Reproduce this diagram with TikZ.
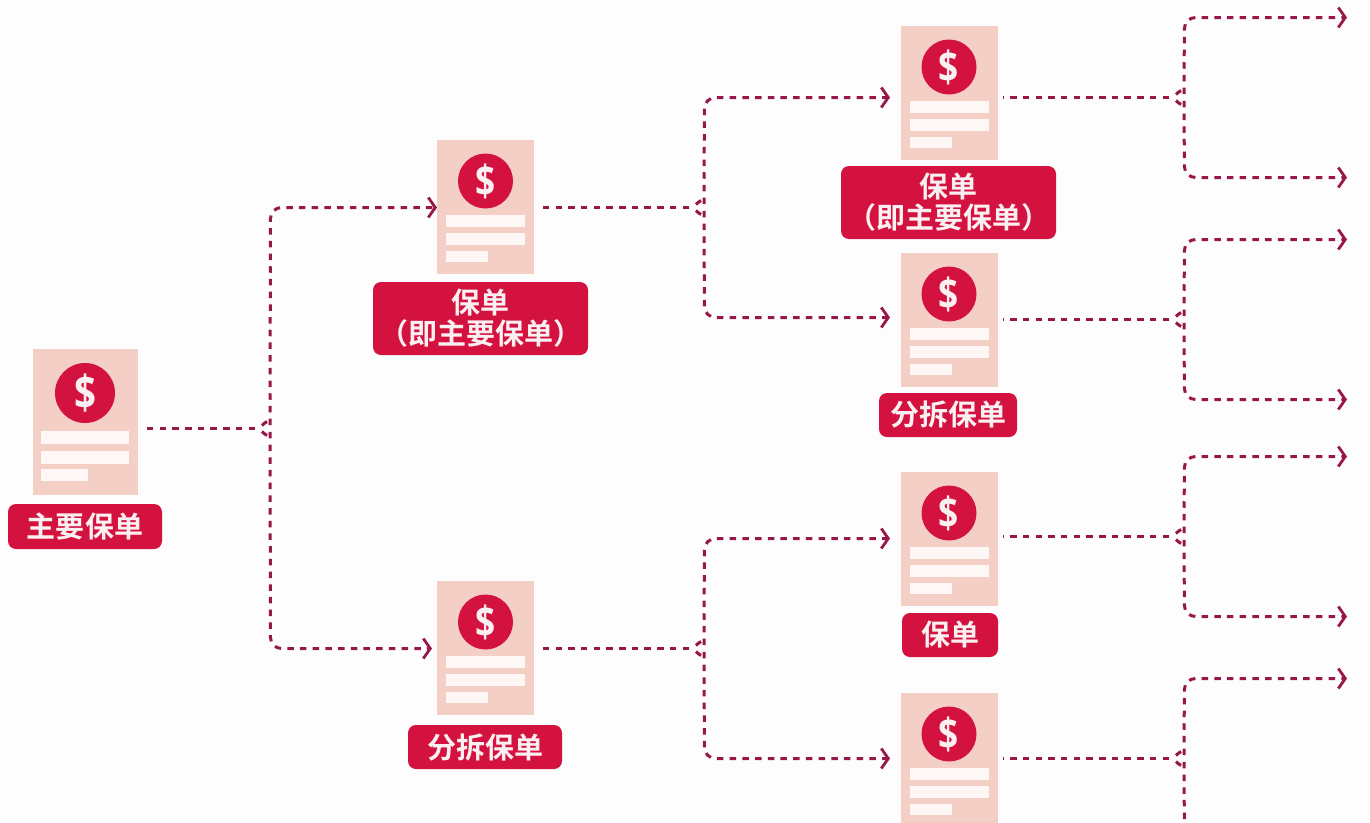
\documentclass[tikz,border=0pt]{standalone}
\usepackage{fontspec}
\setmainfont{Noto Sans CJK SC Bold}
\newfontfamily\dollarfont{Open Sans}[BoldFont=* Bold]
\usetikzlibrary{arrows.meta}
\definecolor{bgc}{HTML}{FDFDFE}
\definecolor{cardc}{HTML}{F4CFC6}
\definecolor{barc}{HTML}{FDF7F6}
\definecolor{redc}{HTML}{D3123F}
\definecolor{flowc}{HTML}{98174A}
\definecolor{labc}{HTML}{FBF0F1}
\tikzset{
  x=1pt,y=-1pt,
  cardbox/.style={fill=cardc,draw=none,inner sep=0pt},
  coin/.style={circle,fill=redc,draw=none,inner sep=0pt,text=labc},
  barbox/.style={fill=barc,draw=none,inner sep=0pt,anchor=west},
  tagbox/.style={fill=redc,draw=none,rounded corners=8pt,inner sep=0pt,text=labc,align=center,
    font=\fontsize{29}{31}\selectfont},
  flow/.style={draw=flowc,line width=3pt,dash pattern=on 6.5pt off 6.2pt},
  flowtrunk/.style={flow,shorten <=6pt},
  flowarrow/.style={flow,rounded corners=11pt,-{Straight Barb[length=7pt,width=20pt,line width=2.8pt]}}
}
% name, centre x, top y
\newcommand{\doccard}[3]{%
  \node[cardbox,minimum width=97pt,minimum height=134pt] (#1) at (#2,#3+67) {};
  \node[coin,minimum size=55pt,font=\dollarfont\bfseries\fontsize{43}{43}\selectfont] (#1c) at (#2,#3+41) {\scalebox{0.82}[1]{\$}};
  \node[barbox,minimum width=79pt,minimum height=12pt] (#1a) at (#2-39.5,#3+81) {};
  \node[barbox,minimum width=79pt,minimum height=12pt] (#1b) at (#2-39.5,#3+99) {};
  \node[barbox,minimum width=42pt,minimum height=11pt] (#1d) at (#2-39.5,#3+116) {};
}
% source, junction, trunk coordinate, top target, bottom target
\newcommand{\branch}[5]{%
  \draw[flowtrunk] (#2) -- (#1);
  \draw[flowarrow] ([shift={(1,-3)}]#2) .. controls ([shift={(6,-8)}]#2) and ([shift={(9,-9)}]#2) .. ([shift={(9,-14)}]#2) -- (#3 |- #4) -- (#4);
  \draw[flowarrow] ([shift={(1,3)}]#2) .. controls ([shift={(6,8)}]#2) and ([shift={(9,9)}]#2) .. ([shift={(9,14)}]#2) -- (#3 |- #5) -- (#5);
}
\begin{document}
\begin{tikzpicture}
\useasboundingbox (0,0) rectangle (1370,822);
\clip (0,0) rectangle (1370,822);
\fill[bgc] (0,0) rectangle (1370,822);

% root document
\node[cardbox,minimum width=105pt,minimum height=146pt] (root) at (85.5,422) {};
\node[coin,minimum size=60pt,font=\dollarfont\bfseries\fontsize{47}{47}\selectfont] (rootc) at (85,393) {\scalebox{0.82}[1]{\$}};
\node[barbox,minimum width=88pt,minimum height=13pt] (roota) at (41,437.5) {};
\node[barbox,minimum width=88pt,minimum height=13pt] (rootb) at (41,457.5) {};
\node[barbox,minimum width=47pt,minimum height=12pt] (rootd) at (41,475) {};
\node[tagbox,minimum width=154pt,minimum height=45pt] (roott) at (85,526.5) {主要保单};

\doccard{pa}{485.5}{140}
\node[tagbox,minimum width=215pt,minimum height=73pt] (pat) at (480.5,318.5) {保单\\（即主要保单）};
\doccard{pb}{485.5}{581}
\node[tagbox,minimum width=154pt,minimum height=44pt] (pbt) at (485,747) {分拆保单};

\doccard{qa}{949}{26}
\node[tagbox,minimum width=215pt,minimum height=73pt] (qat) at (948.5,202.5) {保单\\（即主要保单）};
\doccard{qb}{949}{253}
\node[tagbox,minimum width=138pt,minimum height=44pt] (qbt) at (948,415) {分拆保单};
\doccard{qc}{949}{472}
\node[tagbox,minimum width=96pt,minimum height=44pt] (qct) at (950,635) {保单};
\doccard{qd}{949}{693}

% connector ends
\coordinate (rs) at (143,428.5);  \coordinate (rj) at (261,428.5);  \coordinate (rv) at (270.5,428.5);
\coordinate (ia) at (437,207.5);  \coordinate (ib) at (432,648.5);

\coordinate (as) at (538,207.5);  \coordinate (aj) at (695,207.5);  \coordinate (av) at (704.5,207.5);
\coordinate (ja) at (890,97.5);   \coordinate (jb) at (890,317.5);
\coordinate (bs) at (538,648.5);  \coordinate (bj) at (695,648.5);  \coordinate (bv) at (704.5,648.5);
\coordinate (jc) at (890,538.5);  \coordinate (jd) at (890,758.5);

\coordinate (qas) at (1003,97.5);  \coordinate (qaj) at (1175,97.5);  \coordinate (qav) at (1184.5,97.5);
\coordinate (e1) at (1347,17.5);   \coordinate (e2) at (1347,177.5);
\coordinate (qbs) at (1003,319.5); \coordinate (qbj) at (1175,319.5); \coordinate (qbv) at (1184.5,319.5);
\coordinate (e3) at (1347,239.5);  \coordinate (e4) at (1347,399.5);
\coordinate (qcs) at (1003,536.5); \coordinate (qcj) at (1175,536.5); \coordinate (qcv) at (1184.5,536.5);
\coordinate (e5) at (1347,456.5);  \coordinate (e6) at (1347,616.5);
\coordinate (qds) at (1003,758.5); \coordinate (qdj) at (1175,758.5); \coordinate (qdv) at (1184.5,758.5);
\coordinate (e7) at (1347,678.5);  \coordinate (e8) at (1347,838.5);

\branch{rs}{rj}{rv}{ia}{ib}
\branch{as}{aj}{av}{ja}{jb}
\branch{bs}{bj}{bv}{jc}{jd}
\branch{qas}{qaj}{qav}{e1}{e2}
\branch{qbs}{qbj}{qbv}{e3}{e4}
\branch{qcs}{qcj}{qcv}{e5}{e6}
\branch{qds}{qdj}{qdv}{e7}{e8}
\end{tikzpicture}
\end{document}
